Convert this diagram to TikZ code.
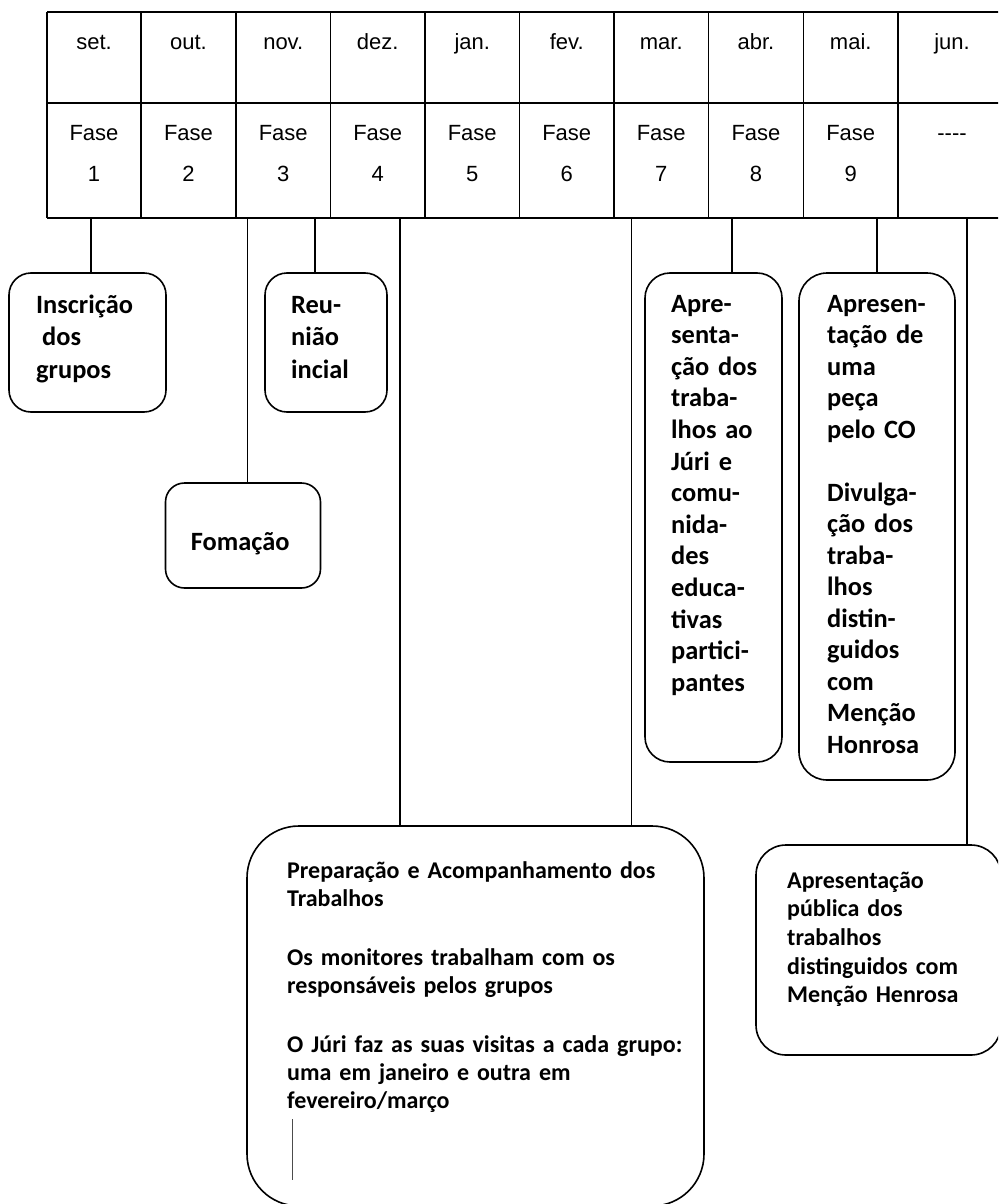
\documentclass[tikz,border=0pt]{standalone}
\usepackage{fontspec}
\setmainfont{Liberation Sans}
\newfontfamily\carlito{Carlito}

\begin{document}
\begin{tikzpicture}[x=1pt, y=-1pt,
  grelha/.style={black, line width=1.8pt},
  mes/.style={font=\fontsize{22}{26}\selectfont, anchor=base, inner sep=0pt},
  fase/.style={font=\fontsize{22}{41.7}\selectfont, anchor=base, align=center, text width=80pt, inner sep=0pt},
  caixa/.style={draw, line width=1.6pt, inner sep=0pt},
  texto/.style={font=\carlito\bfseries\fontsize{26.4}{#1}\selectfont, anchor=base west, text width=440pt, inner sep=0pt},
  texto/.default=31.6,
  largo/.style={texto, font=\carlito\bfseries\fontsize{24}{#1}\selectfont},
  largo/.default=28,
  liga/.style={black, line width=1.3pt}]

\useasboundingbox (0,0) rectangle (998,1204);
\clip (0,0) rectangle (998,1204);

% tabela dos meses
\draw[grelha] (47,12) -- (1010,12);
\draw[grelha] (47,103) -- (1010,103);
\draw[grelha] (47,218) -- (1010,218);
\foreach \x in {47,141,236,330.5,425,519.5,614,708.5,803.5,898}
  \draw[grelha] (\x,12) -- (\x,218);

\foreach \m/\x [count=\i] in {set./94, out./188.5, nov./283.25, dez./377.75, jan./472.25, fev./566.75, mar./661.25, abr./756, mai./850.75, jun./952}
  \node[mes] (mes\i) at (\x,50) {\m};

\foreach \x [count=\i] in {94, 188.5, 283.25, 377.75, 472.25, 566.75, 661.25, 756, 850.75}
  \node[fase] (fase\i) at (\x,140) {Fase\\\i};
\node[fase] (fase10) at (952,140) {-{}-{}-{}-};

% pontos de saida
\coordinate (p1) at (91,218);
\coordinate (p3a) at (247.7,218);
\coordinate (p3b) at (315,218);
\coordinate (p4) at (400,218);
\coordinate (p7) at (631.5,218);
\coordinate (p8) at (732,218);
\coordinate (p9) at (877,218);
\coordinate (p10) at (967,218);

% caixas
\node[caixa, rounded corners=22pt, minimum width=157pt, minimum height=139pt] (inscr) at (87.5,342.5) {};
\node[caixa, rounded corners=22pt, minimum width=122pt, minimum height=139pt] (reun) at (326,342.5) {};
\node[caixa, rounded corners=19pt, minimum width=155pt, minimum height=105pt] (foma) at (243,535.5) {};
\node[caixa, rounded corners=25pt, minimum width=137pt, minimum height=489pt] (juri) at (713.5,517.5) {};
\node[caixa, rounded corners=28pt, minimum width=156pt, minimum height=507pt] (peca) at (877,526.5) {};
\node[caixa, rounded corners=52pt, minimum width=457pt, minimum height=380pt] (prep) at (475.5,1016) {};
\node[caixa, rounded corners=30pt, minimum width=245pt, minimum height=210pt] (publ) at (878.5,950) {};

\node[texto=32.5] (tInscr) at (36,313) {Inscrição\\\hspace*{6pt}dos\\grupos};
\node[texto=32.5] (tReun) at (291,313) {Reu-\\nião\\incial};
\node[texto] (tFoma) at (190.7,550) {Fomação};
\node[texto] (tJuri) at (671,312) {Apre-\\senta-\\ção dos\\traba-\\lhos ao\\Júri e\\comu-\\nida-\\des\\educa-\\tivas\\partici-\\pantes};
\node[texto=31.5] (tPeca) at (827,312) {Apresen-\\tação de\\uma\\peça\\pelo CO\\[31.5pt]Divulga-\\ção dos\\traba-\\lhos\\distin-\\guidos\\com\\Menção\\Honrosa};
\node[largo] (tPrep) at (287,878) {Preparação e Acompanhamento dos\\Trabalhos\\[31pt]Os monitores trabalham com os\\responsáveis pelos grupos\\[31pt]O Júri faz as suas visitas a cada grupo:\\uma em janeiro e outra em\\fevereiro/março};
\node[largo=28.7] (tPubl) at (787,888) {Apresentação\\pública dos\\trabalhos\\distinguidos com\\Menção Henrosa};
\draw[gray!60!black, line width=0.8pt] (292,1119) -- (292,1180);

% ligacoes
\draw[liga] (p1) -- (p1 |- inscr.north);
\draw[liga] (p3a) -- (p3a |- foma.north);
\draw[liga] (p3b) -- (p3b |- reun.north);
\draw[liga] (p4) -- (p4 |- prep.north);
\draw[liga] (p7) -- (p7 |- prep.north);
\draw[liga] (p8) -- (p8 |- juri.north);
\draw[liga] (p9) -- (p9 |- peca.north);
\draw[liga] (p10) -- (p10 |- publ.north);
\end{tikzpicture}
\end{document}
